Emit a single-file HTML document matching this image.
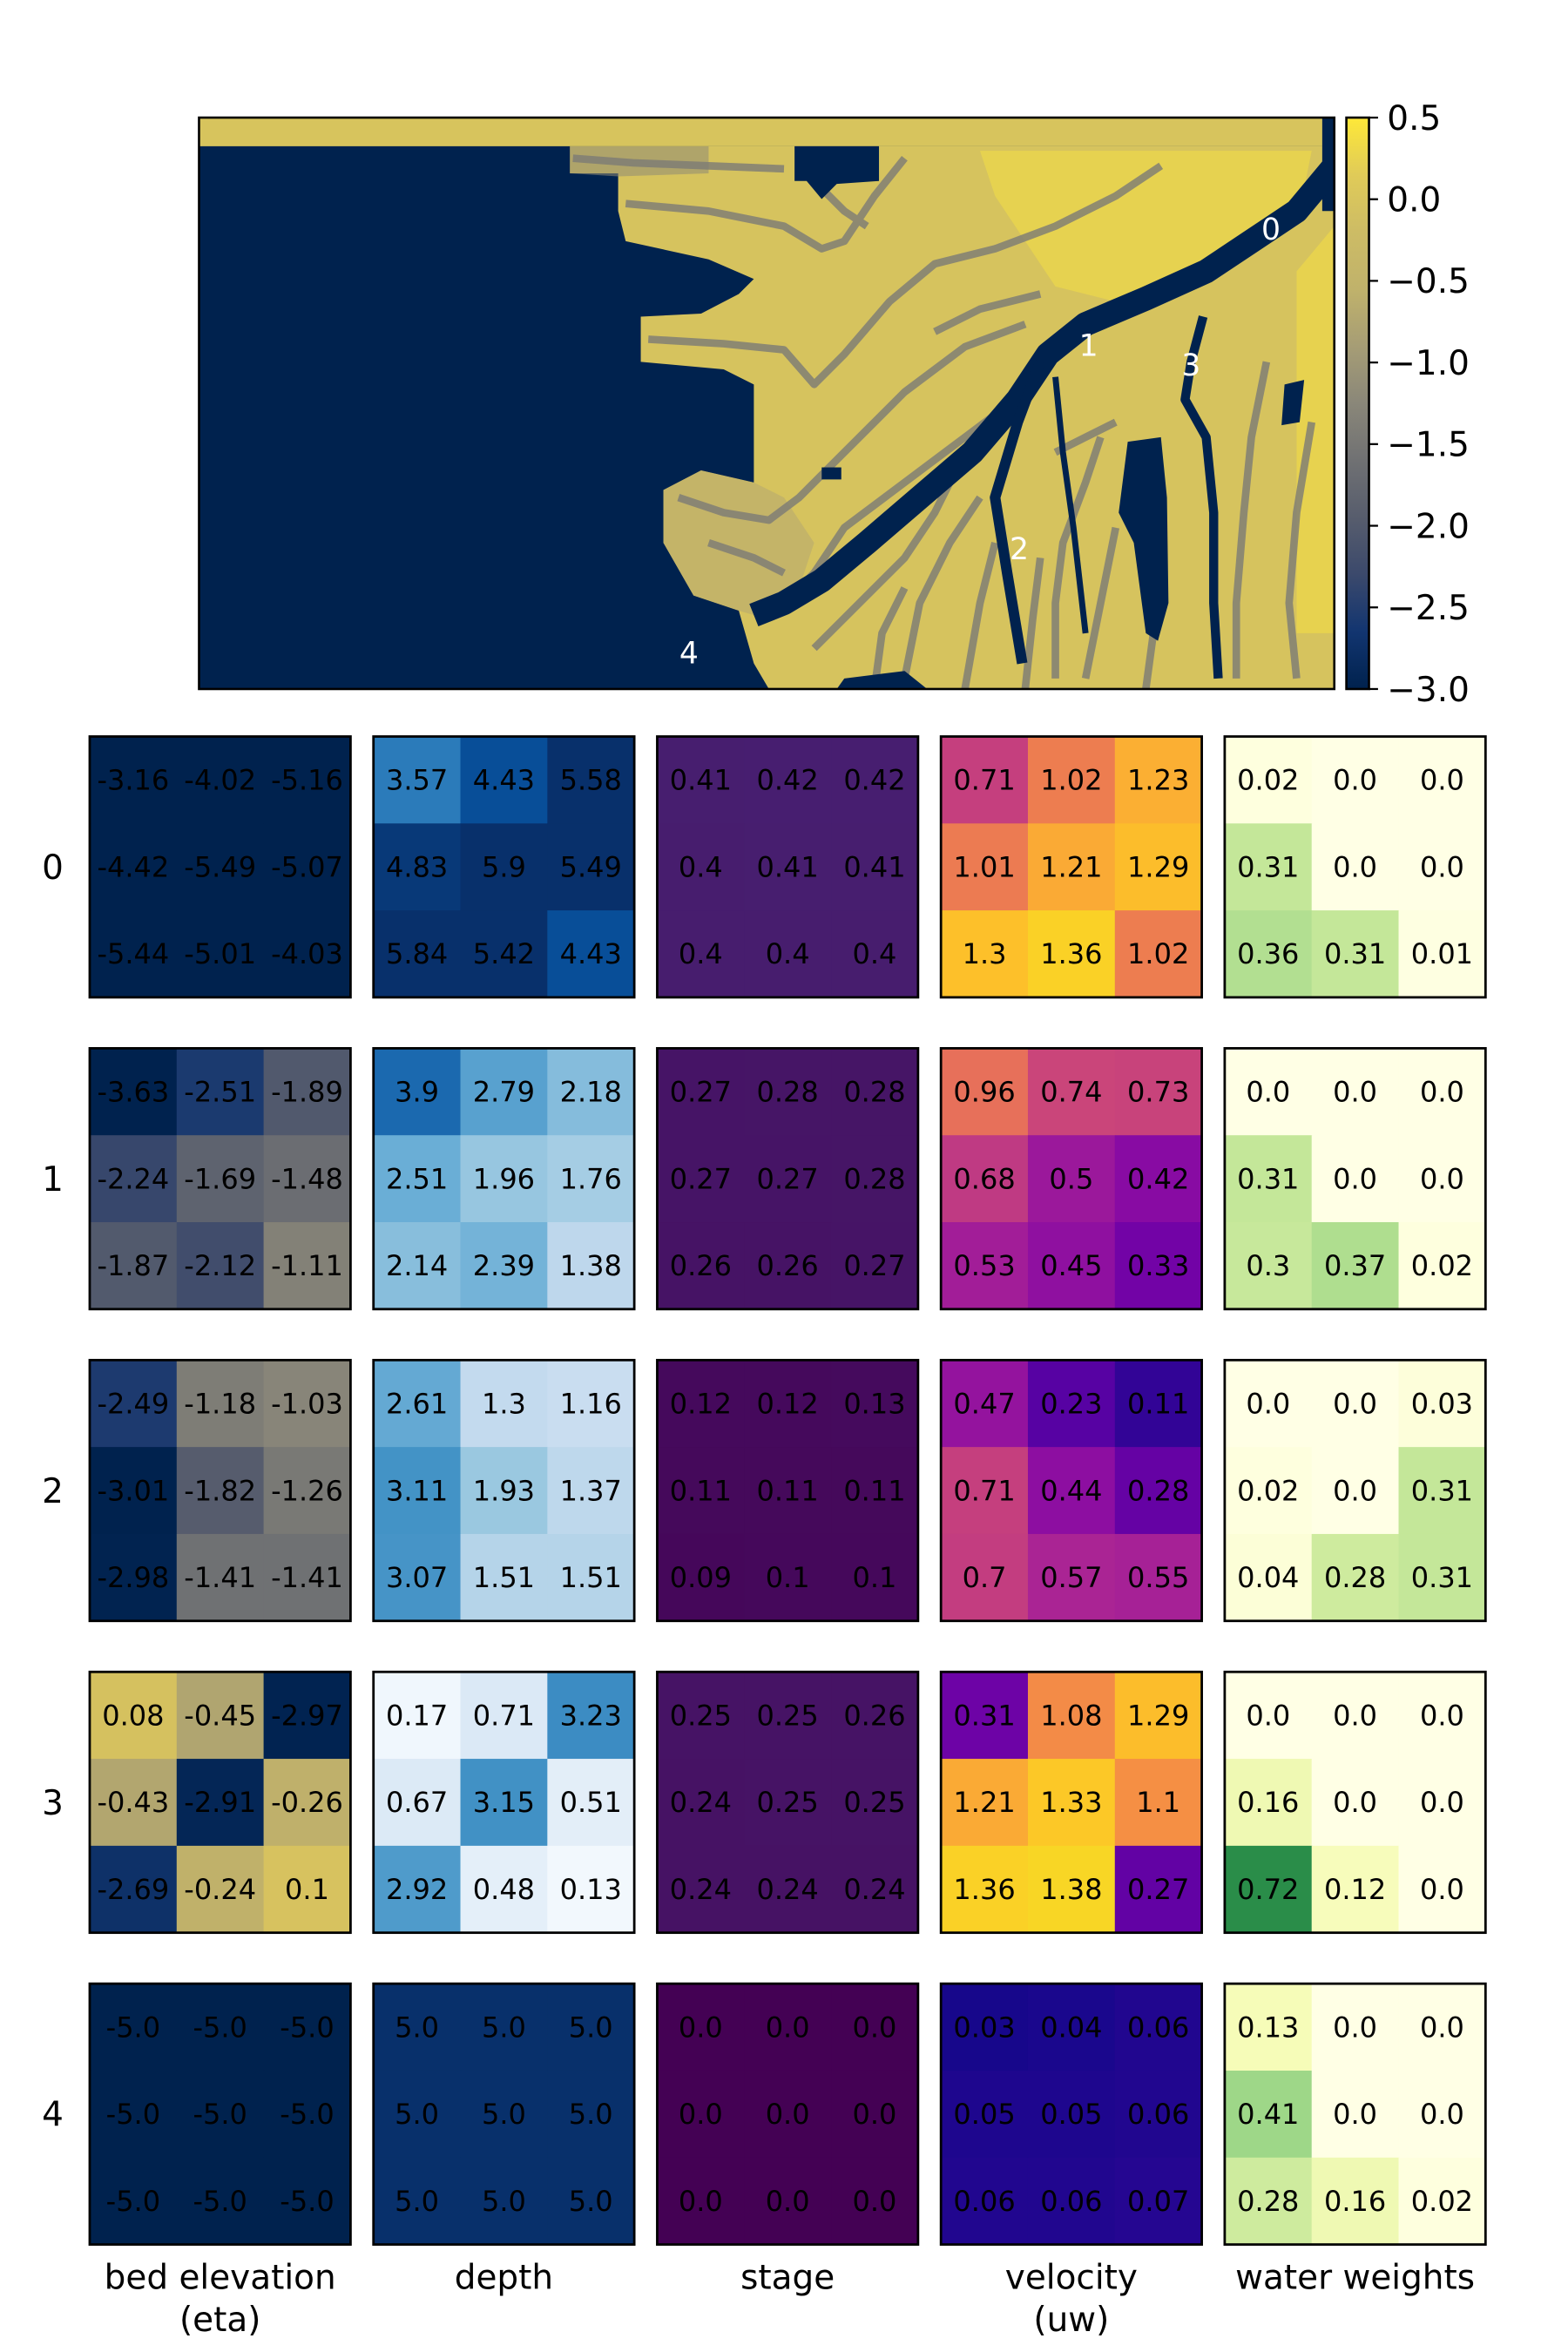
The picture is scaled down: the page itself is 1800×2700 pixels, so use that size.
<!DOCTYPE html>
<html><head><meta charset="utf-8"><title>Patch panels</title>
<style>html,body{margin:0;padding:0;background:#fff}svg{display:block}</style></head>
<body>
<svg id="fig" width="1800" height="2700" viewBox="0 0 1040 1560" xmlns="http://www.w3.org/2000/svg" font-family="'DejaVu Sans','Liberation Sans',sans-serif">
<defs>
<linearGradient id="cbgrad" x1="0" y1="1" x2="0" y2="0"></linearGradient>
<clipPath id="mapclip"><rect x="132" y="78" width="753" height="379"/></clipPath>
</defs>
<g id="map" clip-path="url(#mapclip)">
<rect x="132" y="78" width="753" height="379" fill="#00224e"/>
<rect x="132" y="78" width="745" height="19" fill="#d7c45d"/>
<polygon fill="#d6c35e" points="378,97 877,97 877,140 885,140 885,457 510,457 500,440 490,405 460,395 440,360 440,325 465,312 500,320 500,255 480,245 425,240 425,210 465,208 490,195 500,185 470,172 415,160 410,140 410,115 378,115"/>
<polygon fill="#b8aa70" opacity="0.6" points="440,325 465,312 500,320 520,330 540,360 530,390 500,408 490,405 460,395 440,360"/>
<polygon fill="#8f8a75" opacity="0.55" points="378,97 470,97 470,115 410,117 378,115"/>
<polygon fill="#ecd84a" points="650,100 870,100 862,140 820,160 790,180 740,200 700,190 660,130" opacity="0.7"/>
<polygon fill="#eed948" points="860,180 885,150 885,420 860,420" opacity="0.7"/>
<g fill="none" stroke="#7c7b76" stroke-width="5" stroke-linejoin="round" opacity="0.8">
<polyline points="380,105 420,108 470,110 520,112"/>
<polyline points="415,135 470,140 520,150 545,165 560,160 580,130 600,105"/>
<polyline points="430,225 480,228 520,232 540,255 560,235 590,200 620,175 660,165 700,150 740,130 770,110"/>
<polyline points="450,330 480,340 510,345 530,330 560,300 600,260 640,230 680,215"/>
<polyline points="520,400 540,380 560,350 600,320 640,290 660,275"/>
<polyline points="540,430 570,400 600,370 620,340 630,320"/>
<polyline points="600,450 610,400 630,360 650,330"/>
<polyline points="640,457 650,400 660,360"/>
<polyline points="700,450 700,400 705,360 720,320 730,290"/>
<polyline points="720,450 730,400 740,350"/>
<polyline points="820,450 820,400 825,340 830,290 840,240"/>
<polyline points="860,450 855,400 860,340 870,280"/>
<polyline points="700,300 720,290 740,280"/>
<polyline points="540,120 560,140 575,150"/>
<polyline points="580,457 585,420 600,390"/>
<polyline points="760,457 765,420 760,380"/>
<polyline points="680,457 685,410 690,370"/>
<polyline points="470,360 500,370 520,380"/>
<polyline points="620,220 650,205 690,195"/>
</g>
<g fill="none" stroke="#00224e" stroke-linejoin="round">
<polyline stroke-width="16" points="885,110 860,140 830,160 800,180 760,198 720,215 695,235 675,265 645,300 610,330 575,360 545,385 520,400 500,408"/>
<polyline stroke-width="6" points="798,210 790,240 786,265 800,290 805,340 805,400 808,450"/>
<polyline stroke-width="7" points="690,240 675,280 660,330 668,380 678,440"/>
<polyline stroke-width="4" points="700,250 705,300 712,350 720,420"/>
</g>
<polygon fill="#00224e" points="527,97 583,97 583,120 555,122 545,132 535,120 527,120"/>
<polygon fill="#00224e" points="748,293 770,290 774,330 775,400 768,425 760,420 752,360 742,340"/>
<polygon fill="#00224e" points="852,255 865,252 862,280 850,282"/>
<rect x="545" y="310" width="13" height="8" fill="#00224e"/>
<polygon fill="#00224e" points="560,450 600,445 615,457 555,457"/>
</g>
<rect x="132" y="78" width="753" height="379" fill="none" stroke="#000" stroke-width="1.5"/>
<g id="maplabels" fill="#fff" font-size="20" text-anchor="middle"></g>
<g id="cbar"></g>
<g id="panels"></g>
</svg>
<script>
// ---- data ----
const rowLabels = ["0","1","2","3","4"];
const colLabels = [["bed elevation","(eta)"],["depth"],["stage"],["velocity","(uw)"],["water weights"]];
const cbarTicks = [0.5,0.0,-0.5,-1.0,-1.5,-2.0,-2.5,-3.0];
const mapLabelText = ["0","1","2","3","4"];
const bedVals = [
 [[-3.16,-4.02,-5.16],[-4.42,-5.49,-5.07],[-5.44,-5.01,-4.03]],
 [[-3.63,-2.51,-1.89],[-2.24,-1.69,-1.48],[-1.87,-2.12,-1.11]],
 [[-2.49,-1.18,-1.03],[-3.01,-1.82,-1.26],[-2.98,-1.41,-1.41]],
 [[0.08,-0.45,-2.97],[-0.43,-2.91,-0.26],[-2.69,-0.24,0.1]],
 [[-5.0,-5.0,-5.0],[-5.0,-5.0,-5.0],[-5.0,-5.0,-5.0]]
];
const depthVals = [
 [[3.57,4.43,5.58],[4.83,5.9,5.49],[5.84,5.42,4.43]],
 [[3.9,2.79,2.18],[2.51,1.96,1.76],[2.14,2.39,1.38]],
 [[2.61,1.3,1.16],[3.11,1.93,1.37],[3.07,1.51,1.51]],
 [[0.17,0.71,3.23],[0.67,3.15,0.51],[2.92,0.48,0.13]],
 [[5.0,5.0,5.0],[5.0,5.0,5.0],[5.0,5.0,5.0]]
];
const stageVals = [
 [[0.41,0.42,0.42],[0.4,0.41,0.41],[0.4,0.4,0.4]],
 [[0.27,0.28,0.28],[0.27,0.27,0.28],[0.26,0.26,0.27]],
 [[0.12,0.12,0.13],[0.11,0.11,0.11],[0.09,0.1,0.1]],
 [[0.25,0.25,0.26],[0.24,0.25,0.25],[0.24,0.24,0.24]],
 [[0.0,0.0,0.0],[0.0,0.0,0.0],[0.0,0.0,0.0]]
];
const velVals = [
 [[0.71,1.02,1.23],[1.01,1.21,1.29],[1.3,1.36,1.02]],
 [[0.96,0.74,0.73],[0.68,0.5,0.42],[0.53,0.45,0.33]],
 [[0.47,0.23,0.11],[0.71,0.44,0.28],[0.7,0.57,0.55]],
 [[0.31,1.08,1.29],[1.21,1.33,1.1],[1.36,1.38,0.27]],
 [[0.03,0.04,0.06],[0.05,0.05,0.06],[0.06,0.06,0.07]]
];
const wwVals = [
 [[0.02,0.0,0.0],[0.31,0.0,0.0],[0.36,0.31,0.01]],
 [[0.0,0.0,0.0],[0.31,0.0,0.0],[0.3,0.37,0.02]],
 [[0.0,0.0,0.03],[0.02,0.0,0.31],[0.04,0.28,0.31]],
 [[0.0,0.0,0.0],[0.16,0.0,0.0],[0.72,0.12,0.0]],
 [[0.13,0.0,0.0],[0.41,0.0,0.0],[0.28,0.16,0.02]]
];
// ---- colormaps ----
const CBAR_STOPS=["#00224e","#123570","#3b496c","#575d6d","#707173","#8a8779","#a69d75","#c0b26b","#cdbc65","#e0cb58","#fee838"];
const CIVIDIS=["#00224e","#123570","#3b496c","#575d6d","#707173","#8a8779","#a59c74","#c3b369","#ddc75b","#f0d94d","#fee838"];
const BLUES=["#f7fbff","#deebf7","#c6dbef","#9ecae1","#6baed6","#4292c6","#2171b5","#08519c","#08306b"];
const VIRIDIS=["#440154","#482475","#414487","#355f8d","#2a788e","#21918c","#22a884","#44bf70","#7ad151","#bddf26","#fde725"];
const PLASMA=["#0d0887","#4c02a1","#7e03a8","#a92395","#cc4778","#e56b5d","#f89540","#fdc328","#f0f921"];
const YLGN=["#ffffe5","#f7fcb9","#d9f0a3","#addd8e","#78c679","#41ab5d","#238443","#006837","#004529"];
function hex(h){return [1,3,5].map(i=>parseInt(h.substr(i,2),16));}
function cmap(stops,t){t=Math.max(0,Math.min(1,t));const n=stops.length-1;const f=t*n;const i=Math.min(n-1,Math.floor(f));const u=f-i;const a=hex(stops[i]),b=hex(stops[i+1]);return "rgb("+a.map((v,k)=>Math.round(v+(b[k]-v)*u)).join(",")+")";}
const panelsDef=[
 {name:"bed-elevation",vals:bedVals,stops:CIVIDIS,vmin:-3,vmax:1},
 {name:"depth",vals:depthVals,stops:BLUES,vmin:0,vmax:5},
 {name:"stage",vals:stageVals,stops:VIRIDIS,vmin:0,vmax:5},
 {name:"velocity",vals:velVals,stops:PLASMA,vmin:0,vmax:1.5},
 {name:"water-weights",vals:wwVals,stops:YLGN,vmin:0,vmax:1}
];
const NS="http://www.w3.org/2000/svg";
function mk(tag,attrs,parent){const e=document.createElementNS(NS,tag);for(const k in attrs)e.setAttribute(k,attrs[k]);parent.appendChild(e);return e;}
function fmt(v){return Number.isInteger(v)?v.toFixed(1):String(v);}
// ---- layout ----
const PX0=59.5, PDX=188.2, PY0=488.5, PDY=206.8, PS=173;
function colX(j){return PX0+j*PDX;}
function rowY(i){return PY0+i*PDY;}
const panels=document.getElementById("panels");
panelsDef.forEach((pd,j)=>{
  pd.vals.forEach((grid,i)=>{
    const g=mk("g",{},panels);
    
    
    const x0=colX(j), y0=rowY(i), cs=PS/3;
    grid.forEach((row,r)=>{row.forEach((v,c)=>{
      const rc=mk("rect",{x:x0+c*cs,y:y0+r*cs,width:cs+0.4,height:cs+0.4,fill:cmap(pd.stops,(v-pd.vmin)/(pd.vmax-pd.vmin))},g);
      
      
      const t=mk("text",{x:x0+(c+0.5)*cs,y:y0+(r+0.5)*cs+6.5,"font-size":18.5,"text-anchor":"middle",fill:"#000"},g);
      t.textContent=fmt(v);
      
      
    });});
    const fr=mk("rect",{x:x0,y:y0,width:PS,height:PS,fill:"none",stroke:"#000","stroke-width":1.6},g);
    
    
  });
});
rowLabels.forEach((l,i)=>{
  const t=mk("text",{x:35,y:rowY(i)+PS/2+8,"font-size":22.5,"text-anchor":"middle",fill:"#000"},panels);
  t.textContent=l;
  
  
});
colLabels.forEach((lines,j)=>{
  lines.forEach((s,k)=>{
    const t=mk("text",{x:colX(j)+PS/2,y:1518+k*28,"font-size":22.5,"text-anchor":"middle",fill:"#000"},panels);
    t.textContent=s;
    
    
  });
});
// ---- colorbar ----
const CB={x:893,w:15,top:78,bot:457,vmin:-3,vmax:0.5};
function cbY(v){return CB.bot-(v-CB.vmin)/(CB.vmax-CB.vmin)*(CB.bot-CB.top);}
const grad=document.getElementById("cbgrad");
CBAR_STOPS.forEach((c,k)=>{mk("stop",{offset:(k/(CBAR_STOPS.length-1)),"stop-color":c},grad);});
const cbar=document.getElementById("cbar");
const cbr=mk("rect",{x:CB.x,y:CB.top,width:CB.w,height:CB.bot-CB.top,fill:"url(#cbgrad)",stroke:"#000","stroke-width":1.5},cbar);


cbarTicks.forEach(v=>{
  const y=cbY(v);
  const ln=mk("line",{x1:CB.x+CB.w,x2:CB.x+CB.w+6,y1:y,y2:y,stroke:"#000","stroke-width":1.3},cbar);
  
  
  const t=mk("text",{x:CB.x+CB.w+12,y:y+8,"font-size":22.5,fill:"#000"},cbar);
  t.textContent=(v<0?"\u2212":"")+Math.abs(v).toFixed(1);
  
  
});
// ---- map labels ----
const mapLabelPos=[[843,159],[722,236],[676,371],[790,249],[457,440]];
const ml=document.getElementById("maplabels");
mapLabelText.forEach((s,k)=>{
  const t=mk("text",{x:mapLabelPos[k][0],y:mapLabelPos[k][1]},ml);
  t.textContent=s;
  
  
});
</script>
</body></html>
